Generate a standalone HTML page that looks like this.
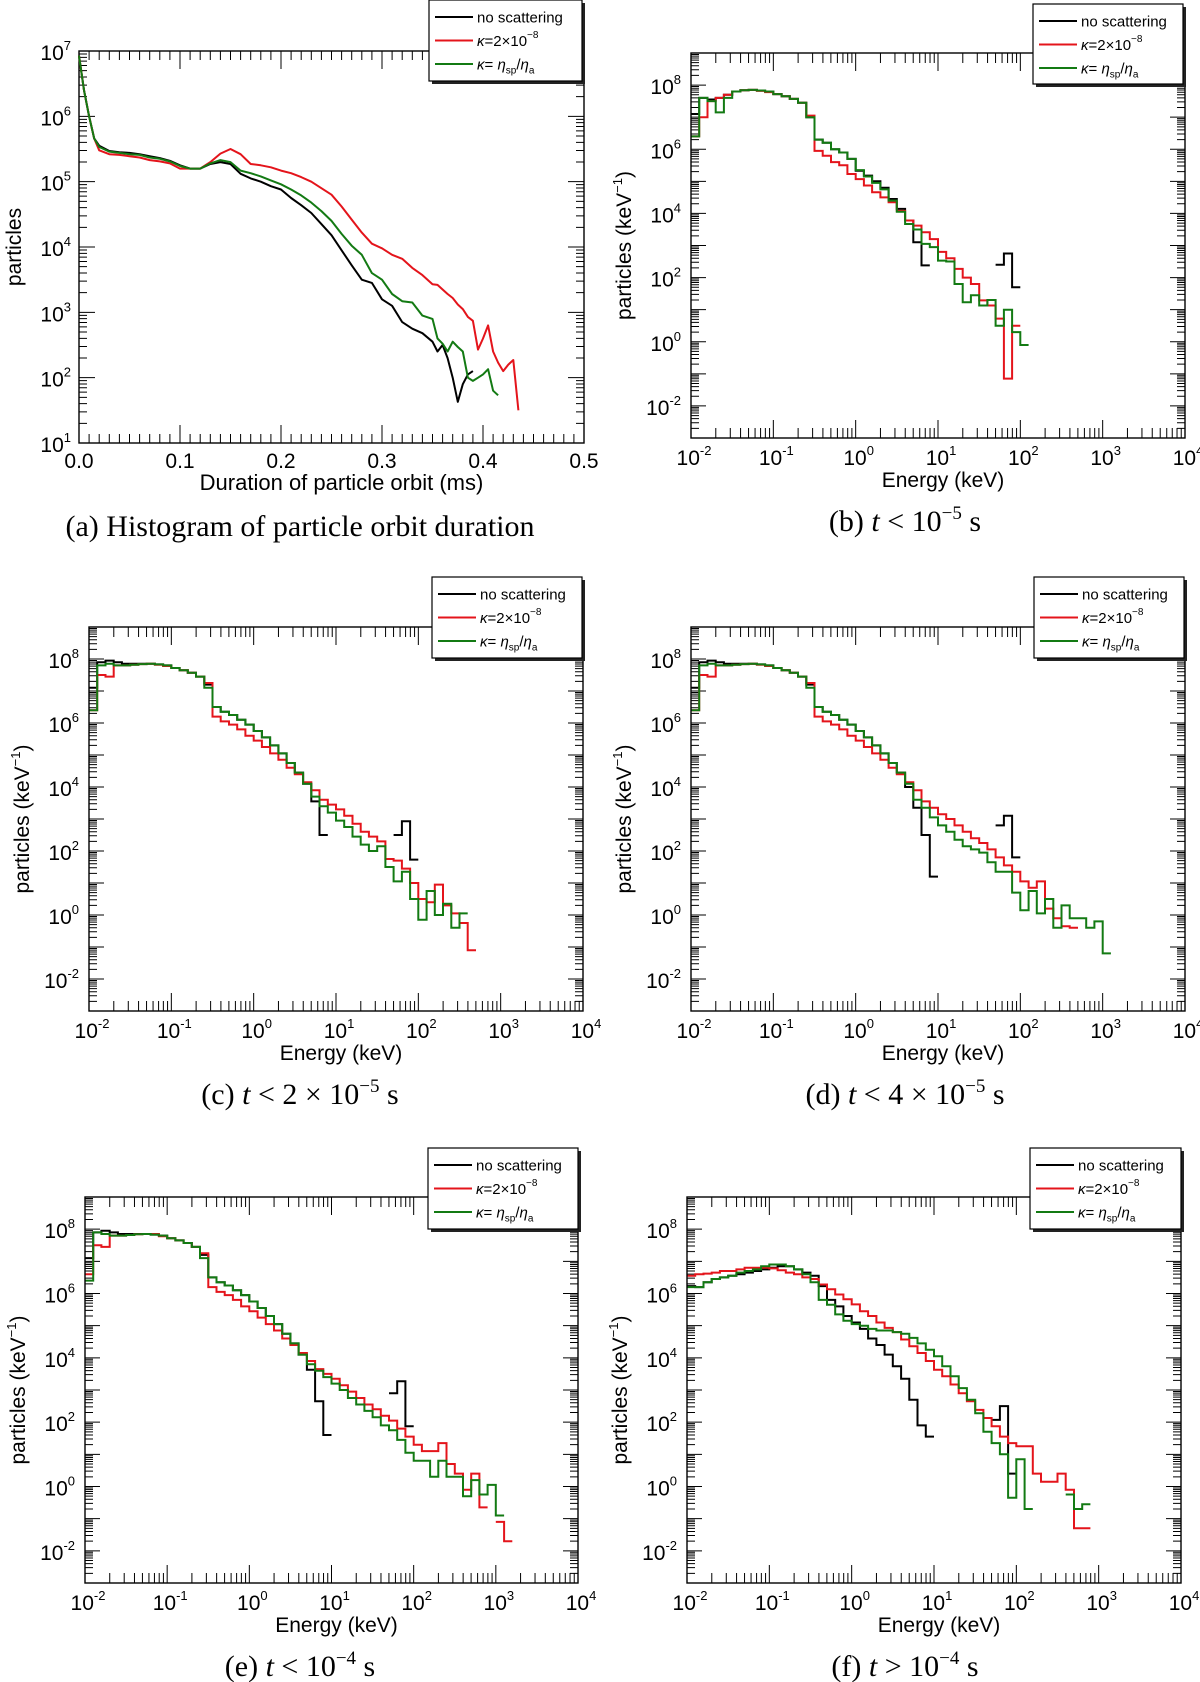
<!DOCTYPE html>
<html><head><meta charset="utf-8"><style>
html,body{margin:0;padding:0;background:#fff}
svg{display:block}
text{font-family:"Liberation Sans",sans-serif;fill:#000}
.cap{font-family:"Liberation Serif",serif;font-size:30px}
</style></head><body>
<svg id="fig" xmlns="http://www.w3.org/2000/svg" width="1200" height="1682" viewBox="0 0 1200 1682"></svg>
<script>
// ---------- data: panel (a) ----------
const aX = [0,0.005,0.01,0.015,0.02,0.03,0.04,0.05,0.06,0.07,0.08,0.09,0.10,0.11,0.12,0.13,0.14,0.15,0.16,0.17,0.18,0.19,0.20,0.21,0.22,0.23,0.24,0.25,0.26,0.27,0.28,0.29,0.30,0.31,0.32,0.33,0.34,0.35,0.355,0.36,0.365,0.37,0.375,0.38,0.385,0.39,0.395,0.40,0.405,0.41,0.415,0.42,0.425,0.43,0.435];
const aBlack = [6.93,6.4,6.0,5.66,5.55,5.47,5.45,5.44,5.42,5.39,5.36,5.32,5.25,5.2,5.2,5.27,5.3,5.27,5.12,5.05,5.0,4.93,4.88,4.75,4.64,4.52,4.35,4.18,3.95,3.72,3.5,3.45,3.2,3.1,2.85,2.75,2.68,2.55,2.4,2.5,2.3,2.0,1.63,1.9,2.05,2.1,null,null,null,null,null,null,null,null,null];
const aRed = [6.93,6.4,6.0,5.66,5.48,5.42,5.41,5.39,5.37,5.33,5.31,5.28,5.2,5.2,5.2,5.3,5.43,5.5,5.42,5.27,5.25,5.22,5.17,5.13,5.07,5.0,4.9,4.8,4.62,4.42,4.22,4.05,3.98,3.88,3.82,3.68,3.57,3.43,3.42,3.35,3.28,3.22,3.12,3.05,2.93,2.87,2.43,2.6,2.8,2.4,2.23,2.1,2.2,2.27,1.5];
const aGreen = [6.93,6.4,6.0,5.66,5.53,5.46,5.44,5.42,5.41,5.37,5.35,5.31,5.24,5.2,5.2,5.28,5.33,5.3,5.17,5.13,5.08,5.02,4.96,4.88,4.79,4.68,4.55,4.4,4.2,4.02,3.88,3.6,3.5,3.28,3.17,3.15,2.95,2.9,2.6,2.52,2.4,2.55,2.47,2.4,2.0,1.95,2.0,2.05,2.13,1.8,1.73,null,null,null,null];
const aXTicks = ["0.0","0.1","0.2","0.3","0.4","0.5"];
const aYTickExps = [1,2,3,4,5,6,7];

// ---------- data: spectra (log10 particles per 0.1-decade bin from 10^-2 keV) ----------
const bBlack = [7.1,7.6,7.55,7.6,7.7,7.8,7.84,7.85,7.83,7.8,7.72,7.65,7.57,7.45,7.0,6.3,6.2,6.0,5.9,5.7,5.33,5.18,5.0,4.8,4.45,4.14,3.78,3.1,2.38,null,null,null,null,null,null,null,null,2.4,2.75,1.7];
const bRed = [6.4,7.0,7.5,7.6,7.7,7.8,7.84,7.85,7.82,7.78,7.72,7.65,7.57,7.45,7.05,5.95,5.8,5.6,5.5,5.23,5.07,4.87,4.66,4.5,4.35,4.08,3.78,3.62,3.41,3.2,2.8,2.6,2.27,2.0,1.8,1.29,1.13,0.72,-1.15,0.5];
const bGreen = [6.4,7.6,7.5,7.15,7.6,7.8,7.84,7.85,7.83,7.8,7.72,7.65,7.57,7.45,7.0,6.3,6.2,6.0,5.9,5.7,5.35,5.15,4.95,4.75,4.4,4.05,3.67,3.5,3.05,2.95,2.53,2.5,1.8,1.23,1.45,1.13,1.3,0.5,1.0,0.3,-0.1];

const cBlack = [7.1,7.9,7.95,7.9,7.85,7.85,7.85,7.85,7.83,7.8,7.72,7.65,7.57,7.45,7.2,6.5,6.35,6.25,6.1,5.95,5.75,5.55,5.3,5.05,4.75,4.45,4.1,3.55,2.5,null,null,null,null,null,null,null,null,2.5,2.93,1.73];
const cRed = [6.4,7.5,7.45,7.8,7.8,7.82,7.84,7.85,7.82,7.78,7.72,7.65,7.57,7.45,7.25,6.2,6.05,5.95,5.8,5.6,5.45,5.25,5.05,4.85,4.6,4.4,4.15,3.9,3.6,3.45,3.3,3.1,2.85,2.6,2.45,2.3,1.75,1.7,1.45,1.0,0.5,0.4,0.95,0.3,0.05,-0.25,-1.1];
const cGreen = [6.4,7.8,7.85,7.8,7.8,7.82,7.84,7.85,7.83,7.8,7.72,7.65,7.57,7.45,7.1,6.5,6.35,6.25,6.1,5.95,5.75,5.55,5.3,5.05,4.75,4.45,4.1,3.7,3.4,3.2,2.95,2.75,2.45,2.2,2.0,2.15,1.5,1.05,1.35,0.5,-0.15,0.75,0.0,0.35,-0.4,0.05];

const dBlack = [7.1,7.9,7.95,7.9,7.85,7.85,7.85,7.85,7.83,7.8,7.72,7.65,7.57,7.45,7.2,6.5,6.35,6.25,6.1,5.95,5.75,5.55,5.3,5.05,4.75,4.45,4.0,3.35,2.5,1.2,null,null,null,null,null,null,null,2.8,3.1,1.8];
const dRed = [6.4,7.5,7.45,7.8,7.8,7.82,7.84,7.85,7.82,7.78,7.72,7.65,7.57,7.45,7.25,6.2,6.05,5.95,5.8,5.6,5.45,5.25,5.05,4.85,4.6,4.4,4.15,3.9,3.55,3.35,3.15,3.0,2.8,2.6,2.4,2.25,2.05,1.8,1.55,1.35,1.05,0.85,1.05,0.2,-0.1,-0.35,-0.4];
const dGreen = [6.4,7.8,7.85,7.8,7.8,7.82,7.84,7.85,7.83,7.8,7.72,7.65,7.57,7.45,7.1,6.5,6.35,6.25,6.1,5.95,5.75,5.55,5.3,5.05,4.75,4.45,4.1,3.6,3.35,3.05,2.8,2.6,2.35,2.15,2.05,1.95,1.65,1.35,1.35,0.7,0.15,0.75,0.05,0.5,-0.4,0.3,-0.1,-0.1,-0.4,-0.2,-1.2];

const eBlack = [7.1,7.9,7.95,7.9,7.85,7.85,7.85,7.85,7.83,7.8,7.72,7.65,7.57,7.45,7.2,6.5,6.35,6.25,6.1,5.95,5.75,5.55,5.3,5.05,4.75,4.45,4.1,3.63,2.65,1.6,null,null,null,null,null,null,null,2.9,3.27,1.87];
const eRed = [6.6,7.5,7.45,7.8,7.8,7.82,7.84,7.85,7.85,7.78,7.72,7.65,7.57,7.45,7.25,6.2,6.05,5.95,5.8,5.6,5.45,5.25,5.05,4.85,4.6,4.4,4.15,3.9,3.65,3.5,3.35,3.15,2.95,2.75,2.55,2.4,2.2,2.05,1.8,1.55,1.3,1.1,1.1,1.35,0.7,0.4,-0.1,0.4,-0.65,null,-1.1,-1.7];
const eGreen = [6.4,7.9,7.85,7.8,7.8,7.82,7.84,7.85,7.83,7.8,7.72,7.65,7.57,7.45,7.1,6.5,6.35,6.25,6.1,5.95,5.75,5.55,5.3,5.05,4.75,4.45,4.1,3.8,3.6,3.4,3.2,3.0,2.75,2.55,2.35,2.15,1.9,1.75,1.45,1.05,0.8,0.8,0.3,0.8,0.3,0.3,-0.3,0.2,-0.25,0.05,-0.9];

const fBlack = [6.23,6.2,6.35,6.45,6.5,6.55,6.6,6.65,6.7,6.75,6.8,6.85,6.85,6.75,6.65,6.55,6.23,5.8,5.6,5.3,5.1,4.9,4.6,4.4,4.1,3.74,3.35,2.7,1.9,1.55,null,null,null,null,null,null,null,2.07,2.5,0.4];
const fRed = [6.55,6.6,6.62,6.65,6.7,6.7,6.75,6.8,6.8,6.8,6.78,6.72,6.65,6.6,6.5,6.45,6.28,6.13,5.97,5.82,5.66,5.45,5.3,5.1,4.93,4.8,4.57,4.36,4.15,3.9,3.63,3.43,3.17,2.9,2.65,2.38,2.13,1.87,1.55,1.35,1.25,1.25,0.4,0.15,0.15,0.4,-0.1,-1.3,-1.3];
const fGreen = [6.2,6.2,6.35,6.45,6.5,6.55,6.65,6.7,6.75,6.85,6.9,6.9,6.85,6.75,6.6,6.35,5.8,5.65,5.35,5.15,5.05,5.0,4.9,4.85,4.85,4.8,4.75,4.62,4.45,4.25,4.05,3.74,3.43,3.06,2.7,2.28,1.7,1.35,1.0,-0.35,0.85,-0.7,null,null,null,null,-0.25,-0.7,-0.55];

const eXTickExps = [-2,-1,0,1,2,3,4];
const eYTickExps = [-2,0,2,4,6,8];

// ---------- drawing ----------
const NS = "http://www.w3.org/2000/svg";
const svg = document.getElementById("fig");
const COL = {black:"#000000", red:"#e4141b", green:"#137a13"};
function mk(tag, attrs, parent){
  const e = document.createElementNS(NS, tag);
  for (const k in attrs) e.setAttribute(k, attrs[k]);
  (parent||svg).appendChild(e);
  return e;
}
function pow10Label(g, x, y, exp, anchor, name){
  const t = mk("text", {x:x, y:y, "font-size":21, "text-anchor":anchor}, g);
  
  
  t.innerHTML = '10<tspan dy="-10" font-size="13">' + exp + '</tspan>';
  return t;
}
function frameAndLegend(p, g){
  const fr = mk("rect", {x:p.x0, y:p.y0, width:p.x1-p.x0, height:p.y1-p.y0, fill:"none", stroke:"#000", "stroke-width":1.4}, g);
  
  
}
function legend(p, g){
  const L = p.leg;
  const lg = mk("g", {}, g);
  
  
  mk("rect", {x:L.x+3, y:L.y+3, width:L.w, height:L.h, fill:"#222"}, lg);
  mk("rect", {x:L.x, y:L.y, width:L.w, height:L.h, fill:"#fff", stroke:"#000", "stroke-width":1.2}, lg);
  const labels = ['no scattering',
    '<tspan font-style="italic">κ</tspan>=2×10<tspan dy="-8" font-size="10">−8</tspan>',
    '<tspan font-style="italic">κ</tspan>= <tspan font-style="italic">η</tspan><tspan dy="4" font-size="10">sp</tspan><tspan dy="-4">/</tspan><tspan font-style="italic">η</tspan><tspan dy="4" font-size="10">a</tspan>'];
  const cols = [COL.black, COL.red, COL.green];
  const names = ['legend-entry-no-scattering','legend-entry-kappa-2e-8','legend-entry-kappa-eta-ratio'];
  for (let i=0;i<3;i++){
    const yy = L.y + 17 + i*23.5;
    const ln = mk("line", {x1:L.x+6, x2:L.x+44, y1:yy, y2:yy, stroke:cols[i], "stroke-width":2}, lg);
    
    
    const t = mk("text", {x:L.x+48, y:yy+5.5, "font-size":15}, lg);
    
    
    t.innerHTML = labels[i];
  }
}
function caption(g, cx, y, html, name){
  const t = mk("text", {x:cx, y:y, "text-anchor":"middle", class:"cap"}, g);
  
  
  t.innerHTML = html;
}

// Panel (a)
function drawA(p){
  const g = mk("g", {});
  
  
  const X = v => p.x0 + v/0.5*(p.x1-p.x0);
  const Y = lv => p.y1 - (lv-1)/6*(p.y1-p.y0);
  let d = "";
  for (let i=0;i<=50;i++){
    const x = X(i*0.01), len = (i%10===0)?18:9;
    d += `M${x},${p.y1}v${-len}M${x},${p.y0}v${len}`;
  }
  for (let dec=1; dec<7; dec++) for (let m=1;m<=9;m++){
    const y = Y(dec+Math.log10(m)), len = m===1?16:8;
    d += `M${p.x0},${y}h${len}M${p.x1},${y}h${-len}`;
  }
  const tk = mk("path", {d:d, stroke:"#000", "stroke-width":1, fill:"none"}, g);
  
  
  frameAndLegend(p, g);
  aXTicks.forEach((s,i)=>{
    const t = mk("text", {x:X(i*0.1), y:p.y1+25, "font-size":21, "text-anchor":"middle"}, g);
    
    
    t.textContent = s;
  });
  aYTickExps.forEach(e=>pow10Label(g, p.x0-8, Y(e)+9, e, "end", "y-tick-label"));
  const xt = mk("text", {x:(p.x0+p.x1)/2+10, y:p.y1+47, "font-size":22, "text-anchor":"middle"}, g);
  
  
  xt.textContent = "Duration of particle orbit (ms)";
  const yt = mk("text", {x:0, y:0, "font-size":21, "text-anchor":"middle", transform:`translate(${p.x0-58},${(p.y0+p.y1)/2}) rotate(-90)`}, g);
  
  
  yt.textContent = "particles";
  const series = [[aBlack,COL.black,'series-no-scattering'],[aRed,COL.red,'series-kappa-2e-8'],[aGreen,COL.green,'series-kappa-eta-ratio']];
  series.forEach(([arr,c,nm])=>{
    let pd = "", pen=false;
    arr.forEach((v,i)=>{
      if (v===null){pen=false;return;}
      pd += (pen?"L":"M") + X(aX[i]).toFixed(1) + "," + Y(v).toFixed(1);
      pen = true;
    });
    const pth = mk("path", {d:pd, stroke:c, "stroke-width":2, fill:"none", "stroke-linejoin":"round"}, g);
    
    
  });
  legend(p, g);
  caption(g, 300, p.y1+93, '(a)  Histogram of particle orbit duration', 'caption-a');
}

// Spectral panels
function drawSpec(p, blk, red, grn, id, capHtml){
  const g = mk("g", {});
  
  
  const X = le => p.x0 + (le+2)/6*(p.x1-p.x0);
  const Y = ly => p.y1 - (ly+3)/12*(p.y1-p.y0);
  let d = "";
  for (let dec=-2; dec<=4; dec++) for (let m=1;m<=9;m++){
    if (dec===4 && m>1) break;
    const x = X(dec+Math.log10(m)), len = m===1?18:10;
    d += `M${x},${p.y1}v${-len}M${x},${p.y0}v${len}`;
  }
  for (let dec=-3; dec<9; dec++) for (let m=1;m<=9;m++){
    const y = Y(dec+Math.log10(m)), len = m===1?15:8;
    d += `M${p.x0},${y}h${len}M${p.x1},${y}h${-len}`;
  }
  const tk = mk("path", {d:d, stroke:"#000", "stroke-width":1, fill:"none"}, g);
  
  
  const cid = "clip-" + id;
  const cp = mk("clipPath", {id:cid}, g);
  mk("rect", {x:p.x0, y:p.y0, width:p.x1-p.x0, height:p.y1-p.y0}, cp);
  const series = [[blk,COL.black,'series-no-scattering'],[red,COL.red,'series-kappa-2e-8'],[grn,COL.green,'series-kappa-eta-ratio']];
  series.forEach(([arr,c,nm])=>{
    let pd = "", prev = null;
    arr.forEach((v,k)=>{
      if (v===null){prev=null;return;}
      const xa = X(-2+0.1*k), xb = X(-2+0.1*(k+1)), y = Y(v);
      if (prev===null) pd += `M${xa.toFixed(1)},${y.toFixed(1)}`;
      else pd += `L${xa.toFixed(1)},${y.toFixed(1)}`;
      pd += `L${xb.toFixed(1)},${y.toFixed(1)}`;
      prev = v;
    });
    const pth = mk("path", {d:pd, stroke:c, "stroke-width":2, fill:"none", "clip-path":`url(#${cid})`}, g);
    
    
  });
  frameAndLegend(p, g);
  eXTickExps.forEach(e=>pow10Label(g, X(e)+3, p.y1+27, e, "middle", "x-tick-label"));
  eYTickExps.forEach(e=>pow10Label(g, p.x0-10, Y(e)+9, e, "end", "y-tick-label"));
  const xt = mk("text", {x:(p.x0+p.x1)/2+5, y:p.y1+49, "font-size":21, "text-anchor":"middle"}, g);
  
  
  xt.textContent = "Energy (keV)";
  const yt = mk("text", {x:0, y:0, "font-size":21, "text-anchor":"middle", transform:`translate(${p.x0-60},${(p.y0+p.y1)/2}) rotate(-90)`}, g);
  
  
  yt.innerHTML = 'particles (keV<tspan dy="-9" font-size="13">−1</tspan><tspan dy="9">)</tspan>';
  legend(p, g);
  caption(g, p.cap, p.y1+93, capHtml, 'caption-' + id);
}

drawA({x0:79,x1:584,y0:51,y1:443, leg:{x:429,y:0,w:153,h:81}});
drawSpec({x0:691,x1:1185,y0:53,y1:438,cap:905, leg:{x:1033,y:4,w:150,h:80}}, bBlack,bRed,bGreen,'b',
  '(b)  <tspan font-style="italic">t</tspan> &lt; 10<tspan dy="-12" font-size="19">−5</tspan><tspan dy="12"> s</tspan>');
drawSpec({x0:89,x1:583,y0:627,y1:1011,cap:300, leg:{x:432,y:577,w:150,h:81}}, cBlack,cRed,cGreen,'c',
  '(c)  <tspan font-style="italic">t</tspan> &lt; 2 × 10<tspan dy="-12" font-size="19">−5</tspan><tspan dy="12"> s</tspan>');
drawSpec({x0:691,x1:1185,y0:627,y1:1011,cap:905, leg:{x:1034,y:577,w:150,h:81}}, dBlack,dRed,dGreen,'d',
  '(d)  <tspan font-style="italic">t</tspan> &lt; 4 × 10<tspan dy="-12" font-size="19">−5</tspan><tspan dy="12"> s</tspan>');
drawSpec({x0:85,x1:578,y0:1197,y1:1583,cap:300, leg:{x:428,y:1148,w:150,h:81}}, eBlack,eRed,eGreen,'e',
  '(e)  <tspan font-style="italic">t</tspan> &lt; 10<tspan dy="-12" font-size="19">−4</tspan><tspan dy="12"> s</tspan>');
drawSpec({x0:687,x1:1181,y0:1197,y1:1583,cap:905, leg:{x:1030,y:1148,w:151,h:81}}, fBlack,fRed,fGreen,'f',
  '(f)  <tspan font-style="italic">t</tspan> &gt; 10<tspan dy="-12" font-size="19">−4</tspan><tspan dy="12"> s</tspan>');
</script>
</body></html>
